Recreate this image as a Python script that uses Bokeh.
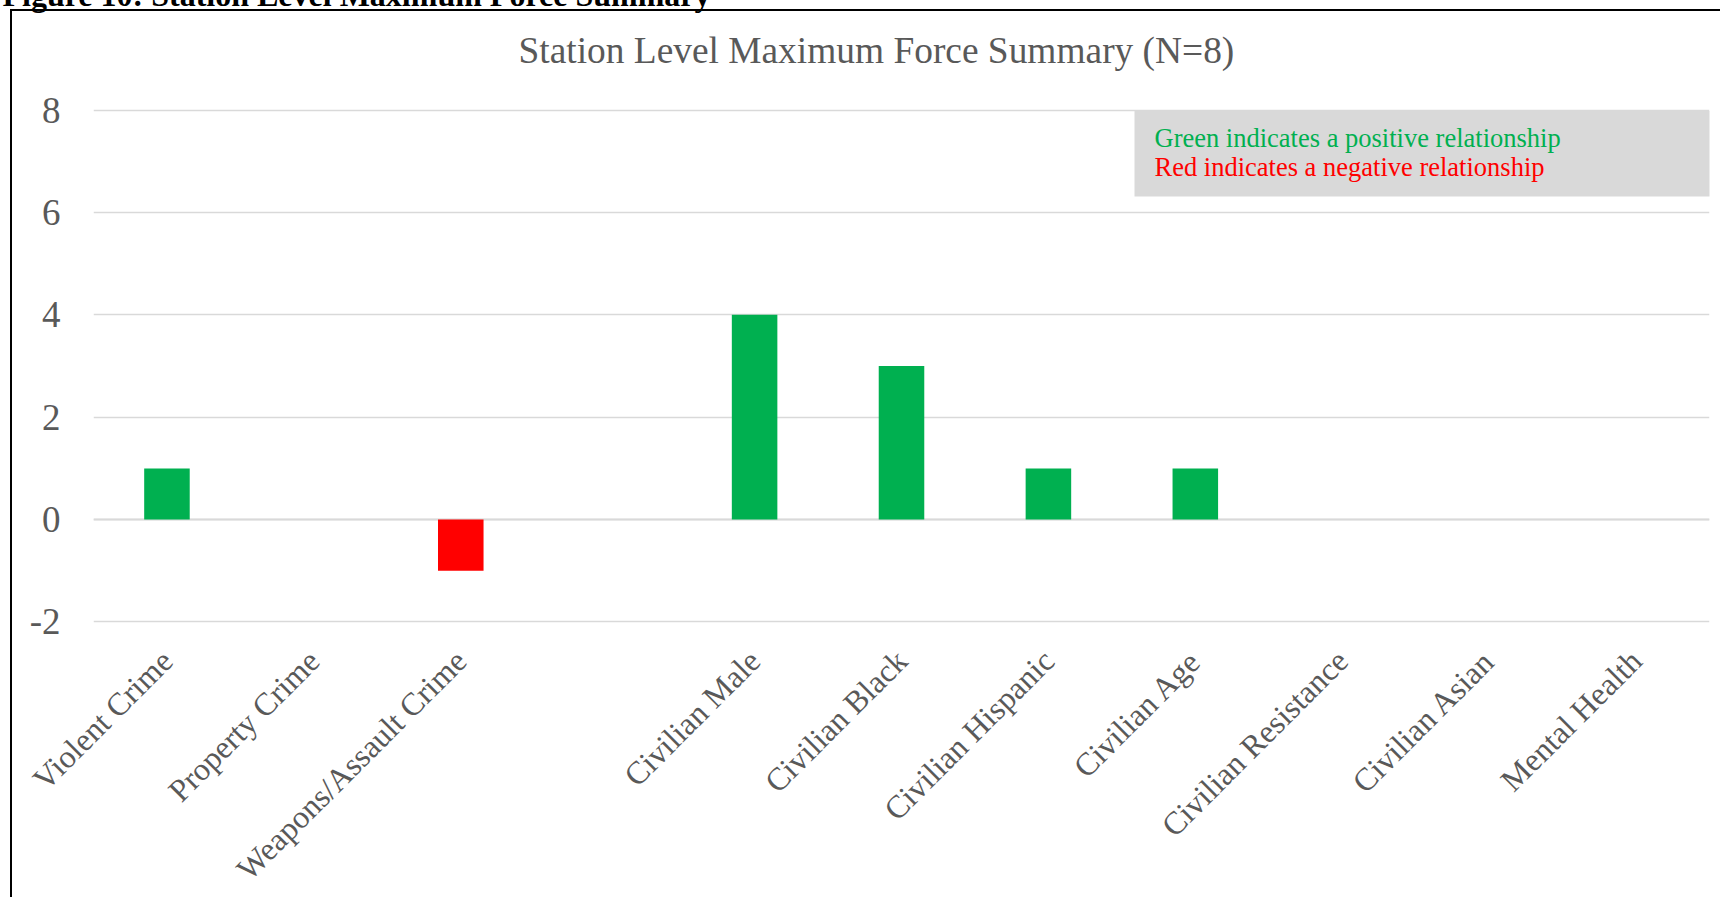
from bokeh.plotting import figure
from bokeh.models import (FactorRange, Range1d, FixedTicker, Label, BoxAnnotation, Span,
                          Title, PrintfTickFormatter, InlineStyleSheet, GlobalInlineStyleSheet)
from bokeh.embed import file_html
from bokeh.resources import INLINE
from math import pi

# ---- data ----
categories = ["Violent Crime", "Property Crime", "Weapons/Assault Crime", " ",
              "Civilian Male", "Civilian Black", "Civilian Hispanic", "Civilian Age",
              "Civilian Resistance", "Civilian Asian", "Mental Health"]
counts = [1, 0, -1, 0, 4, 3, 1, 1, 0, 0, 0]
y_ticks = [-2, 0, 2, 4, 6, 8]
title_text = "Station Level Maximum Force Summary (N=8)"
caption_text = "Figure 10: Station Level Maximum Force Summary"
note_positive = "Green indicates a positive relationship"
note_negative = "Red indicates a negative relationship"

# ---- style ----
POS = "#00b050"
NEG = "#ff0000"
GREY = "#595959"
GRID = "#d9d9d9"
FONT = "Liberation Serif"
colors = [POS if v > 0 else NEG for v in counts]

# canvas origin sits at page (-8, -30)
W, H = 1728, 945
FL, FR, FT = 101, 11, 138
FB = H - 653
frame_h = H - FT - FB          # 515 px for -2.03 .. 8.03
PAGE_FRAME_BOTTOM = 623        # page y of frame bottom


def sy(page_y):
    """page y -> frame-relative screen y"""
    return PAGE_FRAME_BOTTOM - page_y


p = figure(width=W, height=H,
           x_range=FactorRange(*categories, range_padding=0),
           y_range=Range1d(-2.03, 8.03),
           output_backend="svg", toolbar_location=None,
           min_border_left=FL, min_border_right=FR,
           min_border_top=FT, min_border_bottom=FB)
p.styles = {"margin-top": "-30px", "margin-left": "-8px"}
p.stylesheets = [
    GlobalInlineStyleSheet(css="html, body { overflow: hidden; }"),
    InlineStyleSheet(css=(
        ":host { position: relative; }"
        ":host::after { content: ''; position: absolute; left: 18px; top: 39px; right: 0; bottom: 0;"
        " border-left: 2.5px solid #000; border-top: 2.5px solid #000; pointer-events: none; }")),
]
p.outline_line_color = None
p.background_fill_color = "white"
p.border_fill_color = "white"

p.xgrid.grid_line_color = None
p.ygrid.grid_line_color = GRID
p.ygrid.grid_line_width = 1.3
p.yaxis.ticker = FixedTicker(ticks=y_ticks)
p.yaxis.formatter = PrintfTickFormatter(format="%d")

for ax in (p.xaxis[0], p.yaxis[0]):
    ax.axis_line_color = None
    ax.major_tick_line_color = None
    ax.minor_tick_line_color = None
    ax.major_label_text_color = GREY
    ax.major_label_text_font = FONT

p.yaxis.major_label_text_font_size = "37px"
p.yaxis.major_label_standoff = 27
p.xaxis.major_label_text_font_size = "32px"
p.xaxis.major_label_orientation = pi / 4
p.xaxis.major_label_standoff = 26

p.add_layout(Span(location=0, dimension="width", line_color=GRID, line_width=2, level="underlay"))

p.vbar(x=categories, top=counts, bottom=0, width=0.31,
       fill_color=colors, line_color=None)

# legend note box
p.add_layout(BoxAnnotation(left=1134 - 93, right=1760 - 93, top=sy(110.5), bottom=sy(196),
                           left_units="screen", right_units="screen",
                           top_units="screen", bottom_units="screen",
                           fill_color=GRID, fill_alpha=1, line_color=None))
p.add_layout(Label(x=1154 - 93, y=sy(137), x_units="screen", y_units="screen",
                   text=note_positive, text_color=POS, text_font=FONT,
                   text_font_size="26.5px", text_baseline="alphabetic"))
p.add_layout(Label(x=1154 - 93, y=sy(166), x_units="screen", y_units="screen",
                   text=note_negative, text_color=NEG, text_font=FONT,
                   text_font_size="26.5px", text_baseline="alphabetic"))

# chart title (closest to frame) and cut-off caption above it
p.add_layout(Title(text=title_text, text_color=GREY, text_font=FONT, text_font_style="normal",
                   text_font_size="37.4px", align="left", offset=425, standoff=75), "above")
p.add_layout(Title(text=caption_text, text_color="black", text_font=FONT, text_font_style="bold",
                   text_font_size="32px", align="left", offset=-91, standoff=-44), "above")

open("out.html", "w").write(file_html(p, INLINE))
